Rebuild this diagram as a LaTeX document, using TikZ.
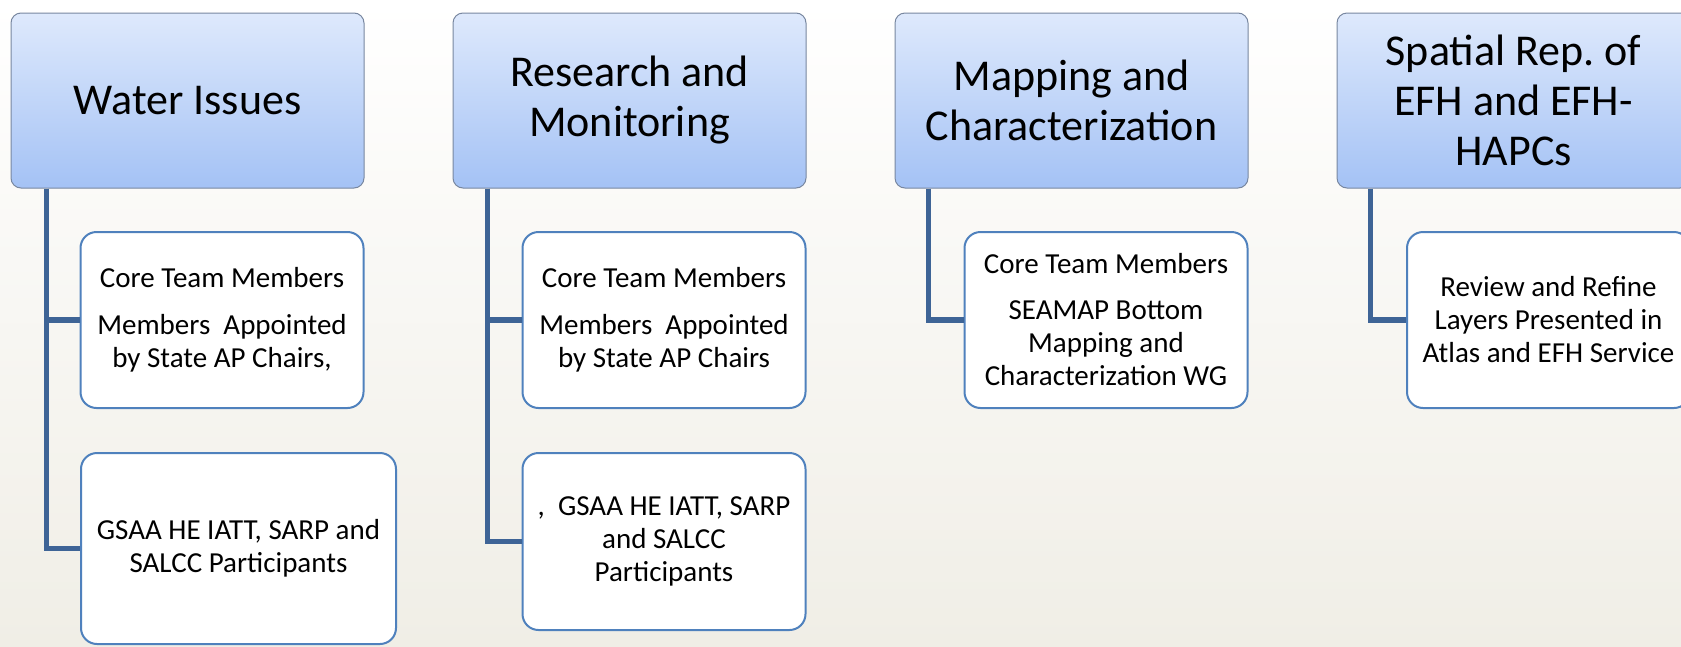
\documentclass[tikz,border=0pt]{standalone}
\usepackage{fontspec}
\setmainfont{Carlito}
\usepackage{xcolor}
\definecolor{hdrtop}{RGB}{222,233,252}
\definecolor{hdrbot}{RGB}{164,194,245}
\definecolor{hdrline}{RGB}{120,135,160}
\definecolor{boxline}{RGB}{79,129,189}
\definecolor{linkblue}{RGB}{62,100,150}
\definecolor{bgbot}{RGB}{240,238,230}

\begin{document}
\begin{tikzpicture}[x=1pt, y=-1pt,
  head/.style = {draw=hdrline, line width=1pt, rounded corners=10pt, top color=hdrtop, bottom color=hdrbot, minimum width=353pt, minimum height=175pt, inner sep=0pt, align=center, font=\fontsize{44}{50}\selectfont},
  item/.style = {draw=boxline, line width=2pt, rounded corners=16pt, fill=white, minimum width=283pt, minimum height=176pt, inner sep=0pt, align=center, font=\fontsize{29}{33}\selectfont},
  link/.style = {draw=linkblue, line width=5.5pt}]
\useasboundingbox (0, 0) rectangle (1681, 646);
\clip (0, 0) rectangle (1681, 646);
\shade [top color=white, middle color=white!55!bgbot, bottom color=bgbot] (0, 0) rectangle (1681, 646);

\node [head] (hdr1) at (187.5, 100.5) {Water Issues};
\node [head] (hdr2) at (629.5, 100.5) {Research and\\Monitoring};
\node [head] (hdr3) at (1071.5, 100.5) {Mapping and\\Characterization};
\node [head] (hdr4) at (1513.5, 100.5) {Spatial Rep.\ of\\EFH and EFH-\\HAPCs};

\node [item] (wat1) at (222, 320) {Core Team Members\\[14pt]Members\ \ Appointed\\by State AP Chairs,};
\node [item, minimum width=315pt, minimum height=191pt] (wat2) at (238.5, 548.5) {GSAA HE IATT, SARP and\\SALCC Participants};
\node [item] (res1) at (664, 320) {Core Team Members\\[14pt]Members\ \ Appointed\\by State AP Chairs};
\node [item, minimum height=177pt] (res2) at (664, 541.5) {,\ \ GSAA HE IATT, SARP\\and SALCC\\Participants};
\node [item] (map1) at (1106, 320) {Core Team Members\\[13pt]SEAMAP Bottom\\Mapping and\\Characterization WG};
\node [item] (spa1) at (1548.5, 320) {Review and Refine\\Layers Presented in\\Atlas and EFH Service};

\draw [link] ([xshift=36pt]hdr1.south west) |- (wat1.west);
\draw [link] ([xshift=36pt]hdr1.south west) |- (wat2.west);
\draw [link] ([xshift=35pt]hdr2.south west) |- (res1.west);
\draw [link] ([xshift=35pt]hdr2.south west) |- (res2.west);
\draw [link] ([xshift=34pt]hdr3.south west) |- (map1.west);
\draw [link] ([xshift=34pt]hdr4.south west) |- (spa1.west);
\end{tikzpicture}
\end{document}
